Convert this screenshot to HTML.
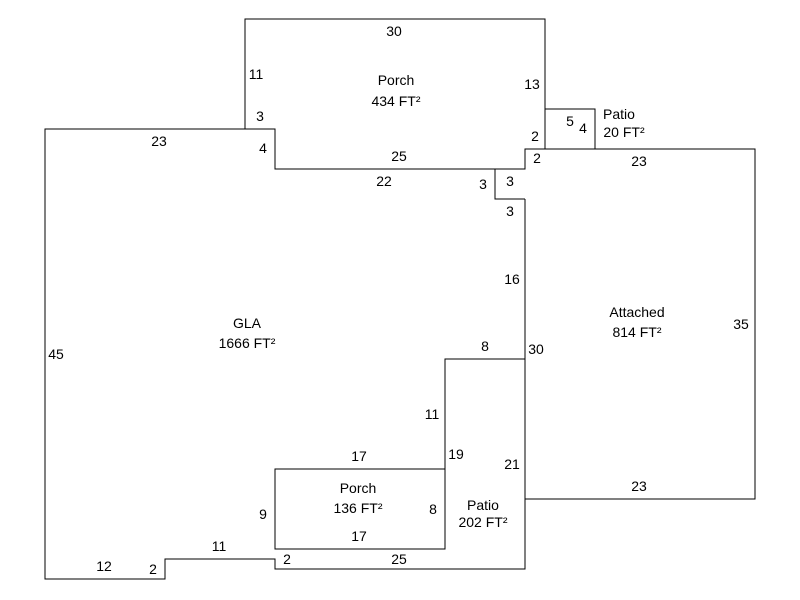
<!DOCTYPE html>
<html><head><style>
html,body{margin:0;padding:0;background:#fff;}
svg{display:block;}
text{font-family:"Liberation Sans",Arial,sans-serif;font-size:14px;fill:#000;}
</style></head><body>
<svg width="800" height="600" viewBox="0 0 800 600">
<g fill="none" stroke="#000" stroke-width="1" shape-rendering="crispEdges">
<polyline points="245,129 245,19 545,19 545,149 525,149 525,169 495,169 495,199 525,199"/>
<polyline points="245,129 275,129 275,169 495,169"/>
<polyline points="545,109 595,109 595,149"/>
<polyline points="525,149 755,149 755,499 525,499"/>
<polyline points="245,129 45,129 45,579 165,579 165,559 275,559 275,569 525,569 525,199"/>
<polyline points="525,359 445,359 445,469"/>
<rect x="275" y="469" width="170" height="80"/>
</g>
<g text-anchor="middle">
<text x="394" y="36">30</text>
<text x="256" y="79">11</text>
<text x="532" y="89">13</text>
<text x="396" y="85">Porch</text>
<text x="396" y="106">434 FT²</text>
<text x="260" y="121">3</text>
<text x="263" y="153">4</text>
<text x="159" y="146">23</text>
<text x="399" y="161">25</text>
<text x="384" y="186">22</text>
<text x="483" y="189">3</text>
<text x="510" y="186">3</text>
<text x="510" y="216">3</text>
<text x="535" y="141">2</text>
<text x="537" y="163">2</text>
<text x="570" y="126">5</text>
<text x="583" y="133">4</text>
<text x="619" y="119">Patio</text>
<text x="624" y="137">20 FT²</text>
<text x="639" y="166">23</text>
<text x="512" y="284">16</text>
<text x="637" y="317">Attached</text>
<text x="637" y="337">814 FT²</text>
<text x="741" y="329">35</text>
<text x="247" y="328">GLA</text>
<text x="247" y="348">1666 FT²</text>
<text x="56" y="359">45</text>
<text x="485" y="351">8</text>
<text x="536" y="354">30</text>
<text x="432" y="419">11</text>
<text x="359" y="461">17</text>
<text x="456" y="459">19</text>
<text x="512" y="469">21</text>
<text x="639" y="491">23</text>
<text x="358" y="493">Porch</text>
<text x="358" y="513">136 FT²</text>
<text x="263" y="519">9</text>
<text x="433" y="514">8</text>
<text x="483" y="510">Patio</text>
<text x="483" y="527">202 FT²</text>
<text x="359" y="541">17</text>
<text x="219" y="551">11</text>
<text x="287" y="564">2</text>
<text x="399" y="564">25</text>
<text x="104" y="571">12</text>
<text x="153" y="574">2</text>
</g>
</svg>
</body></html>
